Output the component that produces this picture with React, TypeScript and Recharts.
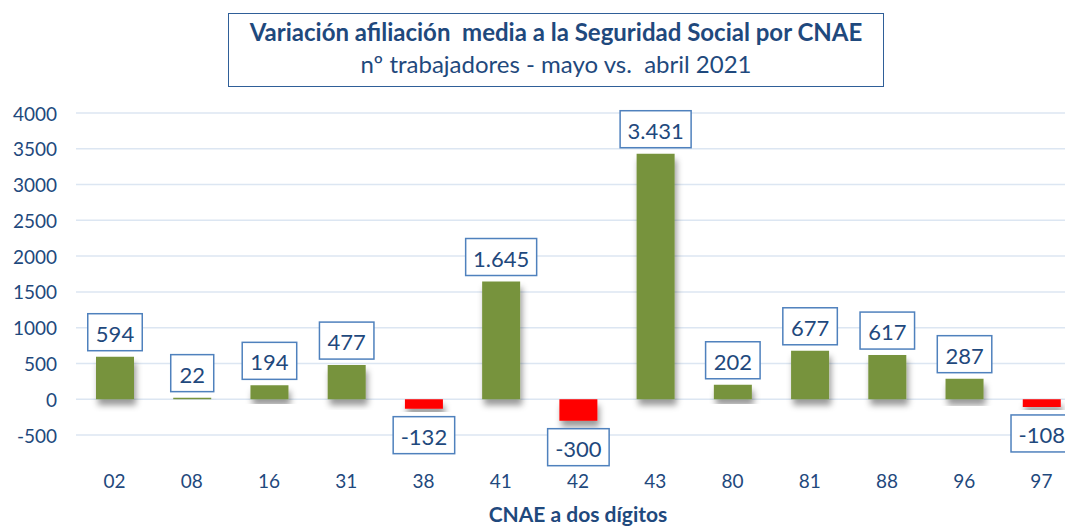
import { BarChart, Bar, XAxis, YAxis, CartesianGrid, Cell, LabelList } from "recharts";

const categories = ["02", "08", "16", "31", "38", "41", "42", "43", "80", "81", "88", "96", "97"];
const variation = [594, 22, 194, 477, -132, 1645, -300, 3431, 202, 677, 617, 287, -108];
const yTicks = [-500, 0, 500, 1000, 1500, 2000, 2500, 3000, 3500, 4000];

const data = categories.map((c, i) => ({ cnae: c, value: variation[i] }));

const FONT = "Lato, 'Open Sans', sans-serif";
const TEXT_BLUE = "#1F497D";

const fmt = (v: number) => {
  const s = Math.abs(v).toString().replace(/\B(?=(\d{3})+(?!\d))/g, ".");
  return (v < 0 ? "-" : "") + s;
};

// rough width of Calibri-like digits at 21px
const textWidth = (s: string) =>
  s.split("").reduce((w, ch) => w + (ch === "." ? 5 : ch === "-" ? 7 : 11.5), 0);

function ValueBox(props: any) {
  const { x, y, width, height, value } = props;
  const top = Math.min(y, y + height);
  const bottom = Math.max(y, y + height);
  const label = fmt(value);
  const w = textWidth(label) + 20;
  const h = 37;
  const cx = x + width / 2;
  const by = value >= 0 ? top - 6 - h : bottom + 8;
  return (
    <g>
      <rect x={cx - w / 2} y={by} width={w} height={h} fill="#fff" stroke="#4F81BD" strokeWidth={1.5} />
      <text x={cx} y={by + h / 2 + 1} textAnchor="middle" dominantBaseline="central" fill={TEXT_BLUE} fontSize={22} fontFamily={FONT}>
        {label}
      </text>
    </g>
  );
}

function YTick(props: any) {
  const { y, payload } = props;
  return (
    <text x={57} y={y} textAnchor="end" dominantBaseline="central" fill={TEXT_BLUE} fontSize={19} fontFamily={FONT}>
      {payload.value}
    </text>
  );
}

function XTick(props: any) {
  const { x, payload } = props;
  return (
    <text x={x} y={480} textAnchor="middle" dominantBaseline="central" fill={TEXT_BLUE} fontSize={19} fontFamily={FONT}>
      {payload.value}
    </text>
  );
}

export default function App() {
  return (
    <div style={{ position: "fixed", left: 0, top: 0, width: 1065, height: 526, overflow: "hidden", background: "#fff" }}>
      <svg width={0} height={0} style={{ position: "absolute" }}>
        <defs>
          <filter id="barShadow" x="-30%" y="-30%" width="160%" height="160%">
            <feDropShadow dx={2} dy={6} stdDeviation={3} floodColor="#000" floodOpacity={0.4} />
          </filter>
        </defs>
      </svg>
      <BarChart
        width={1090}
        height={526}
        data={data}
        margin={{ top: 113, right: 10, bottom: 61, left: 16 }}
        style={{ position: "absolute", left: 0, top: 0 }}
      >
        <CartesianGrid vertical={false} stroke="#DCE6F2" strokeWidth={1.5} />
        <XAxis dataKey="cnae" axisLine={false} tickLine={false} height={30} tick={<XTick />} interval={0} />
        <YAxis
          type="number"
          domain={[-500, 4000]}
          ticks={yTicks}
          width={60}
          axisLine={false}
          tickLine={false}
          tick={<YTick />}
        />
        <Bar dataKey="value" barSize={38} isAnimationActive={false}>
          {data.map((d) => (
            <Cell key={d.cnae} fill={d.value >= 0 ? "#77933C" : "#FF0000"} filter="url(#barShadow)" />
          ))}
          <LabelList dataKey="value" content={<ValueBox />} />
        </Bar>
      </BarChart>
      <div
        style={{
          position: "absolute",
          left: 228,
          top: 13,
          width: 656,
          height: 74,
          boxSizing: "border-box",
          border: "1.5px solid #2F5F98",
          background: "#fff",
          color: TEXT_BLUE,
          fontFamily: FONT,
          textAlign: "center",
        }}
      >
        <div style={{ fontSize: 24, fontWeight: 700, lineHeight: "28px", marginTop: 4, whiteSpace: "nowrap" }}>
          Variación afiliación&nbsp; media a la Seguridad Social por CNAE
        </div>
        <div style={{ fontSize: 24, lineHeight: "28px", marginTop: 4, whiteSpace: "nowrap" }}>
          nº trabajadores - mayo vs.&nbsp; abril 2021
        </div>
      </div>
      <div
        style={{
          position: "absolute",
          left: 468,
          width: 220,
          top: 502,
          textAlign: "center",
          fontFamily: FONT,
          fontWeight: 700,
          fontSize: 21,
          color: TEXT_BLUE,
          lineHeight: "24px",
        }}
      >
        CNAE a dos dígitos
      </div>
    </div>
  );
}
